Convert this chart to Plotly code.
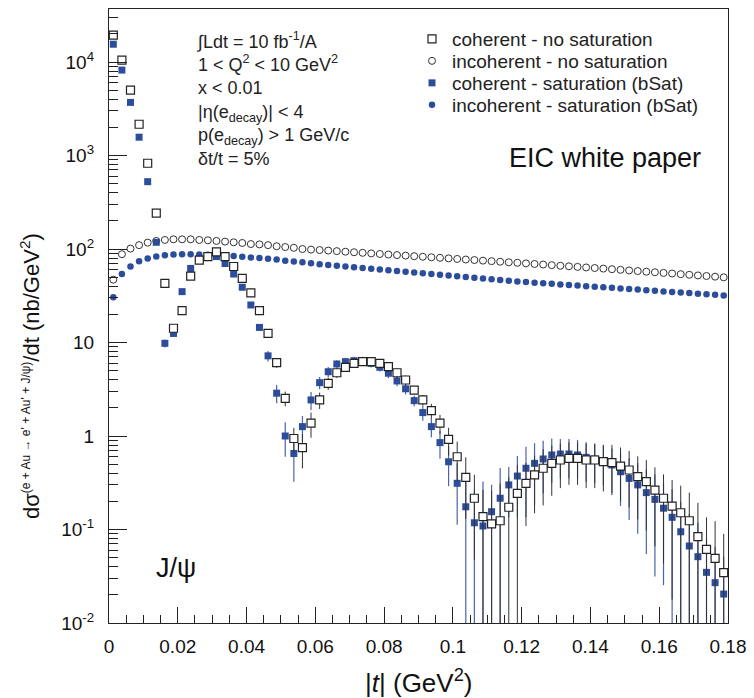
import numpy as np
import plotly.graph_objects as go

# |t| bin centres (GeV^2), bins of 0.0025 from 0 to 0.18
t_bins = np.arange(0.00125, 0.18, 0.0025)

coh_nosat = [19400, 10500, 5000, 2160, 826, 242, 43, 14.2, 21.9, 51.4,
             76, 83, 93, 83, 65, 48.6, 34, 21.9, 12.5, 6.1,
             2.53, 0.94, 0.75, 1.37, 2.43, 3.66, 4.75, 5.43, 5.99, 6.24,
             6.24, 5.99, 5.52, 4.75, 3.97, 3.10, 2.43, 1.87, 1.37, 0.92,
             0.60, 0.361, 0.216, 0.137, 0.115, 0.124, 0.173, 0.244, 0.312, 0.383,
             0.452, 0.51, 0.554, 0.577, 0.577, 0.554, 0.554, 0.531, 0.518, 0.477,
             0.433, 0.367, 0.325, 0.264, 0.216, 0.178, 0.151, 0.124, 0.0838, 0.0614,
             0.0492, 0.0345]
coh_nosat_relerr = [0.01, 0.01, 0.01, 0.01, 0.01, 0.01, 0.04, 0.07, 0.05, 0.04,
                    0.03, 0.03, 0.03, 0.03, 0.04, 0.04, 0.04, 0.05, 0.08, 0.12,
                    0.18, 0.3, 0.4, 0.3, 0.2, 0.15, 0.12, 0.1, 0.1, 0.1,
                    0.1, 0.1, 0.11, 0.12, 0.12, 0.1, 0.13, 0.18, 0.23, 0.33,
                    0.45, 0.64, 0.78, 0.94, 1.26, 1.5, 1.1, 1.0, 0.65, 0.61,
                    0.6, 0.55, 0.5, 0.48, 0.48, 0.5, 0.5, 0.52, 0.55, 0.58,
                    0.6, 0.65, 0.7, 0.75, 0.8, 0.9, 0.95, 1.0, 1.3, 1.2,
                    1.5, 1.6]

coh_sat = [15500, 8200, 3700, 1570, 525, 118, 9.8, 12.5, 35, 62,
           79, 83, 83, 70, 54, 39, 25.2, 14.5, 7.2, 2.87,
           1.0, 0.65, 1.26, 2.43, 3.72, 4.87, 5.89, 6.24, 6.39, 6.39,
           5.99, 5.43, 4.69, 3.88, 3.2, 2.39, 1.78, 1.26, 0.85, 0.53,
           0.312, 0.175, 0.118, 0.109, 0.155, 0.216, 0.30, 0.373, 0.452, 0.51,
           0.568, 0.627, 0.642, 0.642, 0.627, 0.591, 0.568, 0.541, 0.49, 0.415,
           0.352, 0.30, 0.248, 0.21, 0.169, 0.135, 0.0946, 0.0666, 0.0512, 0.0348,
           0.027, 0.0204]
coh_sat_relerr = [0.01, 0.01, 0.01, 0.01, 0.01, 0.01, 0.1, 0.08, 0.05, 0.03,
                  0.03, 0.03, 0.03, 0.03, 0.04, 0.05, 0.06, 0.08, 0.13, 0.22,
                  0.4, 0.5, 0.3, 0.22, 0.15, 0.12, 0.1, 0.1, 0.1, 0.1,
                  0.1, 0.1, 0.11, 0.12, 0.13, 0.13, 0.18, 0.23, 0.33, 0.45,
                  0.64, 1.1, 1.26, 2.0, 0.94, 1.1, 0.55, 0.64, 0.7, 0.64,
                  0.57, 0.5, 0.45, 0.45, 0.45, 0.45, 0.45, 0.45, 0.5, 0.57,
                  0.64, 0.7, 0.78, 0.85, 0.85, 1.0, 1.1, 1.2, 1.3, 1.3,
                  1.4, 1.5]

inc_nosat = [47, 88, 101, 110, 117, 122, 125, 127, 127, 127,
             125, 124, 122, 120, 118, 116, 113, 112, 110, 107,
             105, 103, 100, 98.5, 97.5, 96.2, 94.9, 93.6, 92.3, 91.0,
             89.8, 88.5, 87.3, 86.1, 85.0, 83.8, 82.7, 81.6, 80.5, 79.4,
             78.3, 77.2, 76.2, 75.1, 74.1, 73.1, 72.1, 71.2, 70.2, 69.2,
             68.2, 67.2, 66.2, 65.3, 64.4, 63.5, 62.6, 61.7, 60.8, 59.9,
             59.0, 58.1, 57.2, 56.4, 55.5, 54.7, 53.8, 53.0, 52.2, 51.4,
             50.6, 49.8]

inc_sat = [30.5, 54, 65, 74, 79, 83, 86, 87.5, 88, 88,
           87.5, 87, 86, 85, 84, 82.5, 81, 80, 78.5, 77,
           75, 73.5, 72, 70.5, 68.6, 67.3, 66.1, 64.9, 63.7, 62.6,
           61.4, 60.3, 59.2, 58.1, 57.1, 56.0, 55.0, 54.0, 53.0, 52.1,
           51.1, 50.2, 49.3, 48.4, 47.5, 46.6, 45.8, 45.0, 44.3, 43.6,
           43.0, 42.4, 41.8, 41.2, 40.6, 40.0, 39.5, 38.9, 38.4, 37.8,
           37.3, 36.8, 36.2, 35.7, 35.2, 34.7, 34.2, 33.8, 33.3, 32.8,
           32.4, 31.9]

x_tickvals = [0, 0.02, 0.04, 0.06, 0.08, 0.1, 0.12, 0.14, 0.16, 0.18]
x_ticktext = ["0", "0.02", "0.04", "0.06", "0.08", "0.1", "0.12", "0.14", "0.16", "0.18"]
y_tickvals = [1e-2, 1e-1, 1, 10, 1e2, 1e3, 1e4]
y_ticktext = ["10<sup>-2</sup>", "10<sup>-1</sup>", "1", "10", "10<sup>2</sup>",
              "10<sup>3</sup>", "10<sup>4</sup>"]

info_lines = ["∫Ldt = 10 fb<sup>-1</sup>/A",
              "1 &lt; Q<sup>2</sup> &lt; 10 GeV<sup>2</sup>",
              "x &lt; 0.01",
              "|η(e<sub>decay</sub>)| &lt; 4",
              "p(e<sub>decay</sub>) &gt; 1 GeV/c",
              "δt/t = 5%"]

BLUE = "#2c4c9c"
FONT = "Liberation Sans, Arial, sans-serif"
W, H = 754, 698
ML, MR, MT, MB = 109, 26, 9, 75
PW, PH = W - ML - MR, H - MT - MB


def px(x):
    return (x - ML) / PW


def py(y):
    return (H - MB - y) / PH


coh_nosat_err = [v * r for v, r in zip(coh_nosat, coh_nosat_relerr)]
coh_sat_err = [v * r for v, r in zip(coh_sat, coh_sat_relerr)]

fig = go.Figure()
fig.add_trace(go.Scatter(
    x=t_bins, y=inc_nosat, mode="markers", name="incoherent - no saturation",
    legend="legend2",
    marker=dict(symbol="circle", size=7, color="white", line=dict(color="#333", width=1))))
fig.add_trace(go.Scatter(
    x=t_bins, y=inc_sat, mode="markers", name="incoherent - saturation (bSat)",
    legend="legend4",
    marker=dict(symbol="circle", size=6.5, color=BLUE, line=dict(width=0))))
fig.add_trace(go.Scatter(
    x=t_bins, y=coh_sat, mode="markers", name="coherent - saturation (bSat)",
    legend="legend3",
    error_y=dict(type="data", array=coh_sat_err, visible=True, color="#4a64ad",
                 thickness=1.2, width=0),
    marker=dict(symbol="square", size=7, color=BLUE, line=dict(width=0))))
fig.add_trace(go.Scatter(
    x=t_bins, y=coh_nosat, mode="markers", name="coherent - no saturation",
    legend="legend",
    error_y=dict(type="data", array=coh_nosat_err, visible=True, color="#333",
                 thickness=1.0, width=0),
    marker=dict(symbol="square", size=8, color="white", line=dict(color="#222", width=1.2))))

minor_y = [m * 10.0 ** e for e in range(-2, 5) for m in range(2, 10) if m * 10.0 ** e < 10 ** 4.57]

fig.update_xaxes(
    range=[0, 0.18], tickmode="array", tickvals=x_tickvals, ticktext=x_ticktext,
    ticks="inside", ticklen=16, tickwidth=1, tickcolor="#222",
    minor=dict(ticks="inside", ticklen=8, tickwidth=1, tickcolor="#222",
               tickmode="linear", tick0=0, dtick=0.005, showgrid=False),
    showline=True, linecolor="#222", linewidth=1.2, mirror=True,
    showgrid=False, zeroline=False, ticklabelstandoff=6,
    tickfont=dict(family=FONT, size=19, color="#111"))
fig.update_yaxes(
    type="log", range=[-2, 4.567], tickmode="array", tickvals=y_tickvals, ticktext=y_ticktext,
    ticks="inside", ticklen=18, tickwidth=1, tickcolor="#222",
    minor=dict(ticks="inside", ticklen=9, tickwidth=1, tickcolor="#222",
               tickmode="array", tickvals=minor_y, showgrid=False),
    showline=True, linecolor="#222", linewidth=1.2, mirror=True,
    showgrid=False, zeroline=False, ticklabelstandoff=10,
    tickfont=dict(family=FONT, size=19, color="#111"))

annotations = []
annotations.append(dict(text="<br>".join(info_lines), x=px(194), y=py(27), xref="paper", yref="paper",
                        xanchor="left", yanchor="top", align="left", showarrow=False,
                        font=dict(family=FONT, size=18, color="#222")))
annotations.append(dict(text="EIC white paper", x=px(507), y=py(158), xref="paper", yref="paper",
                        xanchor="left", yanchor="middle", showarrow=False,
                        font=dict(family=FONT, size=27, color="#111")))
annotations.append(dict(text="J/ψ", x=px(154), y=py(568), xref="paper", yref="paper",
                        xanchor="left", yanchor="middle", showarrow=False,
                        font=dict(family=FONT, size=27, color="#111")))
annotations.append(dict(
    text="dσ<sup><span style=\"font-size:12px\">(e + Au → e' + Au' + J/ψ)</span></sup>/dt (nb/GeV<sup>2</sup>)",
    x=px(30), y=py(376), xref="paper", yref="paper", textangle=-90,
    xanchor="center", yanchor="middle", showarrow=False,
    font=dict(family=FONT, size=22, color="#111")))
annotations.append(dict(text="|<i>t</i>| (GeV<sup>2</sup>)", x=px(418), y=py(681),
                        xref="paper", yref="paper", xanchor="center", yanchor="middle",
                        showarrow=False, font=dict(family=FONT, size=26, color="#111")))

legend_common = dict(x=px(412), xanchor="left", yanchor="middle",
                     bgcolor="rgba(0,0,0,0)", borderwidth=0,
                     font=dict(family=FONT, size=19, color="#222"))
legend_y = [39, 61, 83, 105]

fig.update_layout(
    width=W, height=H, margin=dict(l=ML, r=MR, t=MT, b=MB),
    paper_bgcolor="white", plot_bgcolor="white",
    showlegend=True,
    legend=dict(y=py(legend_y[0]), **legend_common),
    legend2=dict(y=py(legend_y[1]), **legend_common),
    legend3=dict(y=py(legend_y[2]), **legend_common),
    legend4=dict(y=py(legend_y[3]), **legend_common),
    annotations=annotations)

fig.write_html("out.html")
